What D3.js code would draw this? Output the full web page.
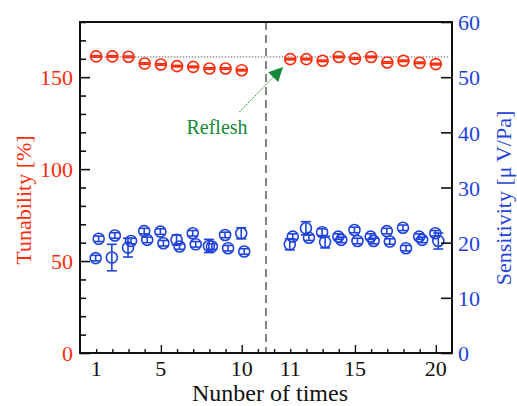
<!DOCTYPE html>
<html>
<head>
<meta charset="utf-8">
<script src="https://cdn.jsdelivr.net/npm/d3@7"></script>
<style>
  body { margin: 0; background: #fff; }
  svg text { font-family: "Liberation Serif", "DejaVu Serif", serif; }
</style>
</head>
<body>
<svg id="chart" width="517" height="406"></svg>
<script>
// measurement runs, 1..10 before refresh, 11..20 after
var runs = [1,2,3,4,5,6,7,8,9,10,11,12,13,14,15,16,17,18,19,20];

var tunability = [161.3,161.3,161.1,157.4,156.9,156.0,155.6,154.7,154.7,153.8,
                  159.8,159.8,158.9,161.0,160.1,161.0,158.0,158.9,157.8,157.1];
var tunabilityErr = [0.4,0.4,0.4,0.4,0.4,0.4,0.4,0.4,0.4,0.4,
                     0.4,0.4,0.4,0.4,0.4,0.4,0.4,0.4,0.4,0.4];

// sensitivity, two measurements per run
var sensA = [17.2,17.3,19.1,22.1,22.0,20.5,21.7,19.4,21.4,21.7,
             19.7,22.6,21.9,21.1,22.3,21.1,22.1,22.7,21.1,21.7];
var sensAErr = [0.5,2.4,1.7,0.5,0.5,0.9,0.5,1.2,0.5,1.0,
                1.0,1.2,0.6,0.5,0.5,0.5,0.5,0.5,0.5,0.5];
var sensB = [20.7,21.3,20.3,20.5,19.9,19.3,19.7,19.3,19.0,18.4,
             21.1,20.9,20.1,20.5,20.3,20.3,20.2,19.0,20.5,20.3];
var sensBErr = [0.5,0.5,0.5,0.5,0.5,0.5,0.5,0.5,0.5,0.5,
                0.5,0.5,1.05,0.5,0.5,0.5,0.5,0.5,0.5,1.45];

var refLevel = 161;          // dotted reference line
var refreshPos = 11.5;       // dashed separator
var xTickLabels = [1,5,10,11,15,20];
var rightTicks = [0,10,20,30,40,50,60];

var red = "#ff2a0a", blue = "#1f43dc", green = "#14893a";

function pos(run) { return run <= 10 ? run : run + 2; }

(function() {
var svg = d3.select("#chart");
var mLeft = 80, mRight = 452, mTop = 22, mBottom = 353;

var x = d3.scaleLinear().domain([0, 23]).range([mLeft, mRight]);
var yL = d3.scaleLinear().domain([0, 180]).range([mBottom, mTop]);
var yR = d3.scaleLinear().domain([0, 60]).range([mBottom, mTop]);

// reference line + separator
svg.append("line")
    .attr("x1", x(0.6)).attr("x2", x(22.8))
    .attr("y1", yL(refLevel)).attr("y2", yL(refLevel))
    .attr("stroke", "#666").attr("stroke-width", 1).attr("stroke-dasharray", "1.5,1.5");

svg.append("line")
    .attr("x1", x(refreshPos)).attr("x2", x(refreshPos))
    .attr("y1", mTop).attr("y2", mBottom)
    .attr("stroke", "#444").attr("stroke-width", 1.3).attr("stroke-dasharray", "8,5");

// markers with error bars
function drawSeries(vals, errs, yScale, color, dx) {
    var g = svg.append("g").attr("stroke", color).attr("fill", "none").attr("stroke-width", 1.6);
    var pts = g.selectAll("g.pt")
        .data(runs.map(function(r, i) { return {x: pos(r), v: vals[i], e: errs[i]}; }))
        .enter().append("g").attr("class", "pt");
    pts.append("line")
        .attr("x1", function(d) { return x(d.x) + dx; })
        .attr("x2", function(d) { return x(d.x) + dx; })
        .attr("y1", function(d) { return yScale(d.v - d.e); })
        .attr("y2", function(d) { return yScale(d.v + d.e); });
    [-1, 1].forEach(function(s) {
        pts.append("line")
            .attr("x1", function(d) { return x(d.x) + dx - 5; })
            .attr("x2", function(d) { return x(d.x) + dx + 5; })
            .attr("y1", function(d) { return yScale(d.v + s * d.e); })
            .attr("y2", function(d) { return yScale(d.v + s * d.e); });
    });
    pts.append("circle")
        .attr("cx", function(d) { return x(d.x) + dx; })
        .attr("cy", function(d) { return yScale(d.v); })
        .attr("r", 5.5);
}

drawSeries(tunability, tunabilityErr, yL, red, 0);
drawSeries(sensA, sensAErr, yR, blue, -0.5);
drawSeries(sensB, sensBErr, yR, blue, 2.5);

// frame
svg.append("rect")
    .attr("x", mLeft).attr("y", mTop)
    .attr("width", mRight - mLeft).attr("height", mBottom - mTop)
    .attr("fill", "none").attr("stroke", "#111").attr("stroke-width", 2);

// left axis (ticks inward)
var gl = svg.append("g").attr("transform", "translate(" + mLeft + ",0)");
gl.call(d3.axisLeft(yL).tickValues(d3.range(0, 181, 10)).tickSize(-6).tickFormat(""));
gl.select(".domain").remove();
gl.selectAll(".tick line").attr("stroke", "#111").attr("stroke-width", 1.6)
    .attr("x2", function(d) { return d % 50 === 0 ? 10 : 6; });
gl.selectAll(".tick").filter(function(d) { return d % 50 === 0; }).append("text")
    .attr("x", -7).attr("dy", "0.35em")
    .attr("text-anchor", "end").attr("fill", red).attr("font-size", 22)
    .text(function(d) { return d; });

// right axis
var gr = svg.append("g").attr("transform", "translate(" + mRight + ",0)");
gr.call(d3.axisRight(yR).tickValues(rightTicks).tickSize(-11).tickFormat(""));
gr.select(".domain").remove();
gr.selectAll(".tick line").attr("stroke", "#111").attr("stroke-width", 1.6);
gr.selectAll(".tick").append("text")
    .attr("x", 6).attr("dy", "0.35em")
    .attr("text-anchor", "start").attr("fill", blue).attr("font-size", 22)
    .text(function(d) { return d; });

// x axis
var gx = svg.append("g").attr("transform", "translate(0," + mBottom + ")");
gx.call(d3.axisBottom(x).tickValues(d3.range(1, 23)).tickSize(-4).tickFormat(""));
gx.select(".domain").remove();
gx.selectAll(".tick line").attr("stroke", "#111").attr("stroke-width", 1.4)
    .attr("y2", function(d) { return [5, 10, 17, 22].indexOf(d) >= 0 ? -8 : -4; });

svg.append("g").selectAll("text")
    .data(xTickLabels)
    .enter().append("text")
    .attr("x", function(d) { return x(pos(d)); })
    .attr("y", 376)
    .attr("text-anchor", "middle").attr("font-size", 22).attr("fill", "#111")
    .text(function(d) { return d; });

// titles
svg.append("text")
    .attr("x", 270).attr("y", 401)
    .attr("text-anchor", "middle").attr("font-size", 24).attr("fill", "#111")
    .text("Nunber of times");

svg.append("text")
    .attr("transform", "translate(31,200) rotate(-90)")
    .attr("text-anchor", "middle").attr("font-size", 22).attr("fill", red)
    .text("Tunability [%]");

svg.append("text")
    .attr("transform", "translate(511,198) rotate(-90)")
    .attr("text-anchor", "middle").attr("font-size", 22).attr("fill", blue)
    .text("Sensitivity [\u03bc\u2009V/Pa]");

// annotation arrow
svg.append("defs").append("marker")
    .attr("id", "ah").attr("viewBox", "0 0 10 10").attr("refX", 10).attr("refY", 5)
    .attr("markerWidth", 20).attr("markerHeight", 14).attr("markerUnits", "userSpaceOnUse")
    .attr("orient", "auto")
  .append("path").attr("d", "M0,0 L10,5 L0,10 Z").attr("fill", green);

svg.append("line")
    .attr("x1", x(9.85)).attr("y1", yL(131))
    .attr("x2", x(12.55)).attr("y2", yL(155.5))
    .attr("stroke", green).attr("stroke-width", 1).attr("stroke-dasharray", "1.5,1")
    .attr("marker-end", "url(#ah)");

svg.append("text")
    .attr("x", 217).attr("y", 134)
    .attr("text-anchor", "middle").attr("font-size", 20).attr("fill", green)
    .text("Reflesh");
})();
</script>
</body>
</html>
